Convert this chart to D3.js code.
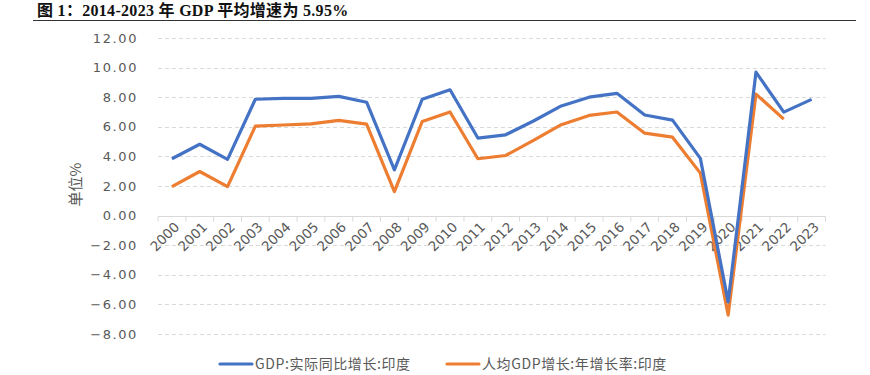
<!DOCTYPE html>
<html>
<head>
<meta charset="utf-8">
<script src="https://cdn.jsdelivr.net/npm/d3@7"></script>
<style>
  body { margin: 0; background: #fff; }
  svg { display: block; }
</style>
</head>
<body>
<div id="wrapper"></div>
<script>
// data
const years = ["2000","2001","2002","2003","2004","2005","2006","2007","2008","2009","2010","2011",
  "2012","2013","2014","2015","2016","2017","2018","2019","2020","2021","2022","2023"]
const gdpGrowth = [3.84, 4.82, 3.80, 7.86, 7.92, 7.92, 8.06, 7.66, 3.09, 7.86, 8.50, 5.24,
  5.46, 6.39, 7.41, 8.00, 8.26, 6.80, 6.45, 3.87, -5.83, 9.69, 6.99, 7.85]
const perCapitaGrowth = [1.96, 2.98, 1.96, 6.05, 6.12, 6.20, 6.43, 6.18, 1.62, 6.36, 7.00, 3.84,
  4.06, 5.08, 6.14, 6.77, 7.00, 5.57, 5.30, 2.87, -6.72, 8.21, 6.52, null]
const yTicks = [12, 10, 8, 6, 4, 2, 0, -2, -4, -6, -8]
const seriesNames = ["GDP:实际同比增长:印度", "人均GDP增长:年增长率:印度"]
const colors = ["#4472C4", "#ED7D31"]

async function drawChart() {
  const dimensions = {
    width: 870,
    height: 375,
    margin: { top: 38, right: 44, bottom: 41, left: 158 },
  }
  dimensions.boundedWidth = dimensions.width - dimensions.margin.left - dimensions.margin.right
  dimensions.boundedHeight = dimensions.height - dimensions.margin.top - dimensions.margin.bottom

  const wrapper = d3.select("#wrapper")
    .append("svg")
      .attr("width", dimensions.width)
      .attr("height", dimensions.height)

  // title
  wrapper.append("text")
      .attr("x", 37)
      .attr("y", 16)
      .style("font-family", "'Liberation Serif', 'Noto Sans CJK SC', serif")
      .style("font-weight", "bold")
      .style("font-size", "16px")
      .style("letter-spacing", "0.3px")
      .style("fill", "#111")
      .text("图 1：2014-2023 年 GDP 平均增速为 5.95%")

  wrapper.append("line")
      .attr("x1", 33).attr("x2", 856)
      .attr("y1", 20.5).attr("y2", 20.5)
      .style("stroke", "#333")
      .style("stroke-width", 1)

  const bounds = wrapper.append("g")
      .attr("transform", `translate(${dimensions.margin.left}, ${dimensions.margin.top})`)

  // scales
  const xScale = d3.scaleBand()
    .domain(years)
    .range([0, 667.5])

  const yScale = d3.scaleLinear()
    .domain([-8, 12])
    .range([dimensions.boundedHeight - 0, 0])

  // gridlines
  bounds.append("g")
    .selectAll("line")
    .data(yTicks.filter(d => d !== 0))
    .join("line")
      .attr("x1", 0)
      .attr("x2", xScale.range()[1])
      .attr("y1", d => Math.round(yScale(d)) + 0.5)
      .attr("y2", d => Math.round(yScale(d)) + 0.5)
      .style("stroke", "#d9d9d9")
      .style("stroke-dasharray", "4 3")
      .style("stroke-width", 1)

  // y axis labels
  bounds.append("g")
    .selectAll("text")
    .data(yTicks)
    .join("text")
      .attr("x", -20)
      .attr("y", d => yScale(d))
      .attr("dy", "0.35em")
      .attr("text-anchor", "end")
      .style("font-family", "'DejaVu Sans', sans-serif")
      .style("font-size", "13px")
      .style("letter-spacing", "1.6px")
      .style("fill", "#595959")
      .text(d => d3.format(".2f")(d))

  wrapper.append("text")
      .attr("transform", `translate(81, ${dimensions.margin.top + yScale(2.1)}) rotate(-90)`)
      .attr("text-anchor", "middle")
      .style("font-family", "'Noto Sans CJK SC', sans-serif")
      .style("font-size", "15px")
      .style("fill", "#595959")
      .text("单位%")

  // x axis at zero
  const y0 = Math.round(yScale(0)) + 0.5
  bounds.append("line")
      .attr("x1", 0).attr("x2", xScale.range()[1])
      .attr("y1", y0).attr("y2", y0)
      .style("stroke", "#d9d9d9")
  bounds.append("g")
    .selectAll("line")
    .data(years.concat(["end"]))
    .join("line")
      .attr("x1", (d, i) => i * xScale.step())
      .attr("x2", (d, i) => i * xScale.step())
      .attr("y1", y0)
      .attr("y2", y0 + 5)
      .style("stroke", "#d9d9d9")

  bounds.append("g")
    .selectAll("text")
    .data(years)
    .join("text")
      .attr("transform", d => `translate(${xScale(d) + xScale.bandwidth() / 2 + 5}, ${y0 + 8}) rotate(-45)`)
      .attr("text-anchor", "end")
      .attr("dy", "0.35em")
      .style("font-family", "'DejaVu Sans', sans-serif")
      .style("font-size", "13.5px")
      .style("fill", "#595959")
      .text(d => d)

  // lines
  const series = [gdpGrowth, perCapitaGrowth]
  const lineGenerator = d3.line()
    .defined(d => d.v !== null)
    .x(d => xScale(d.year) + xScale.bandwidth() / 2)
    .y(d => yScale(d.v))

  series.slice().reverse().forEach((values, ri) => {
    const i = series.length - 1 - ri
    bounds.append("path")
        .attr("d", lineGenerator(values.map((v, j) => ({ year: years[j], v }))))
        .style("fill", "none")
        .style("stroke", colors[i])
        .style("stroke-width", 3.2)
        .style("stroke-linejoin", "round")
  })

  // legend
  const legendX = [220, 447]
  const legend = wrapper.append("g")
  seriesNames.forEach((name, i) => {
    legend.append("line")
        .attr("x1", legendX[i]).attr("x2", legendX[i] + 32)
        .attr("y1", 364).attr("y2", 364)
        .style("stroke", colors[i])
        .style("stroke-width", 3.2)
        .style("stroke-linecap", "round")
    legend.append("text")
        .attr("x", legendX[i] + 35)
        .attr("y", 364)
        .attr("dy", "0.35em")
        .style("font-family", "'Noto Sans CJK SC', sans-serif")
        .style("font-size", "14px")
        .style("letter-spacing", "0.6px")
        .style("fill", "#595959")
        .text(name)
  })
}
drawChart()
</script>
</body>
</html>
